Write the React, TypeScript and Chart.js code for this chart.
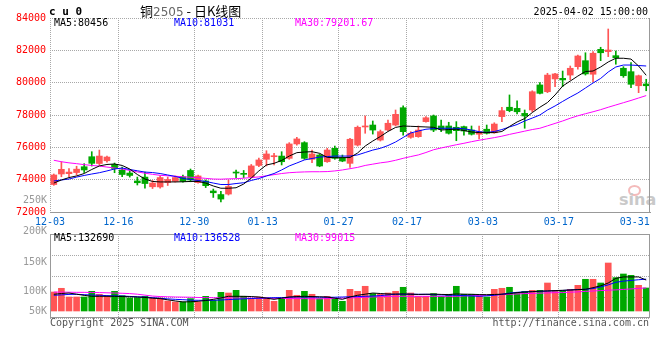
import React, { useEffect, useRef } from 'react';
import { Chart, registerables } from 'chart.js';

Chart.register(...registerables);

// ---------- data ----------
const dates = [
  '12-03', '12-04', '12-05', '12-06', '12-09', '12-10', '12-11', '12-12', '12-13', '12-16',
  '12-17', '12-18', '12-19', '12-20', '12-23', '12-24', '12-25', '12-26', '12-27', '12-30',
  '12-31', '01-02', '01-03', '01-06', '01-07', '01-08', '01-09', '01-10', '01-13', '01-14',
  '01-15', '01-16', '01-17', '01-20', '01-21', '01-22', '01-23', '01-24', '01-27', '02-05',
  '02-06', '02-07', '02-10', '02-11', '02-12', '02-13', '02-14', '02-17', '02-18', '02-19',
  '02-20', '02-21', '02-24', '02-25', '02-26', '02-27', '02-28', '03-03', '03-04', '03-05',
  '03-06', '03-07', '03-10', '03-11', '03-12', '03-13', '03-14', '03-17', '03-18', '03-19',
  '03-20', '03-21', '03-24', '03-25', '03-26', '03-27', '03-28', '03-31', '04-01',
];
const tickLabels = ['12-03', '12-16', '12-30', '01-13', '01-27', '02-17', '03-03', '03-17', '03-31'];
const gridLabels = ['12-16', '12-30', '01-13', '01-27', '02-17', '03-03', '03-17'];

const opens = [
  73700, 74350, 74370, 74440, 74800, 75420, 75000, 75170, 74940, 74600,
  74410, 73920, 74160, 73560, 73550, 73820, 73900, 74180, 74570, 73820,
  73920, 73300, 73080, 73110, 74440, 74390, 74180, 74880, 75260, 75420,
  75460, 75320, 76210, 76290, 75260, 75525, 75110, 75940, 75360, 75010,
  76140, 77260, 77380, 76450, 77070, 77380, 78450, 76620, 76660, 77590,
  77940, 77320, 77320, 77240, 77280, 77070, 76810, 77120, 76900, 77900,
  78480, 78410, 78100, 78310, 79860, 79440, 80230, 80270, 80470, 80990,
  81360, 80520, 82060, 81920, 81670, 80890, 80680, 79810, 79920,
];
const highs = [
  74350, 75110, 74690, 74830, 74990, 75730, 75830, 75460, 75030, 74780,
  74570, 74160, 74470, 73950, 74230, 74160, 74230, 74290, 74660, 74290,
  73980, 73420, 73280, 73980, 74600, 74570, 74940, 75340, 75790, 75630,
  75730, 76290, 76620, 76350, 75830, 75590, 75940, 76080, 75525, 76560,
  77320, 77940, 77630, 77070, 77690, 78310, 78560, 76970, 77320, 77900,
  78000, 77690, 77550, 77590, 77320, 77320, 77320, 77380, 77520, 78480,
  79240, 78870, 78310, 79500, 80000, 80580, 80580, 80720, 81030, 81710,
  81850, 81920, 82190, 83320, 81960, 80990, 81240, 80470, 80210,
];
const lows = [
  73650, 74180, 74190, 74290, 74440, 74840, 74900, 75090, 74430, 74180,
  74160, 73670, 73480, 73450, 73480, 73640, 73850, 73850, 73870, 73790,
  73510, 72900, 72620, 73050, 74130, 74130, 74150, 74810, 74850, 74910,
  74910, 75260, 76140, 75260, 75050, 74800, 75070, 75260, 75110, 74760,
  76080, 76870, 76820, 76390, 77010, 77320, 76760, 76560, 76620, 77550,
  76970, 76970, 76820, 76410, 76760, 76760, 76520, 76820, 76870, 77590,
  78200, 78060, 77180, 78200, 79300, 79380, 79750, 79750, 80170, 80830,
  80470, 80060, 81360, 81610, 81140, 80330, 79690, 79380, 79500,
];
const closes = [
  74290, 74640, 74470, 74650, 74600, 75010, 75460, 75400, 74690, 74320,
  74260, 73810, 73760, 73790, 74130, 74010, 74130, 73900, 73980, 74230,
  73630, 73190, 72800, 73580, 74410, 74330, 74850, 75220, 75590, 75480,
  75110, 76210, 76520, 75320, 75590, 74845, 75835, 75320, 75150, 76500,
  77240, 77320, 77070, 76970, 77490, 78040, 76970, 76870, 77070, 77830,
  77070, 77120, 76870, 77030, 77010, 76810, 76970, 76870, 77440, 78270,
  78270, 78200, 77940, 79440, 79340, 80470, 80540, 80170, 80890, 81650,
  80540, 81820, 81850, 82020, 81540, 80430, 79900, 80430, 79810,
];
const ma5 = [
  73790, 73980, 74130, 74230, 74380, 74630, 74850, 74940, 74970, 74880,
  74660, 74320, 74040, 73890, 73860, 73860, 73860, 73870, 73890, 73890,
  73790, 73610, 73470, 73470, 73500, 73730, 74100, 74540, 74910, 75010,
  75190, 75460, 75670, 75710, 75730, 75630, 75380, 75360, 75360, 75370,
  75650, 76080, 76390, 76670, 76980, 77230, 77320, 77300, 77280, 77260,
  77240, 77070, 77100, 77120, 77040, 76950, 76910, 76910, 76910, 76980,
  77290, 77570, 77780, 78150, 78480, 78770, 79240, 79790, 80100, 80410,
  80690, 80720, 80970, 81280, 81510, 81510, 81460, 81030, 80456,
];
const ma10 = [
  73920, 73980, 74040, 74160, 74260, 74350, 74430, 74540, 74660, 74720,
  74630, 74550, 74470, 74440, 74380, 74290, 74200, 74080, 74010, 73950,
  73890, 73790, 73700, 73700, 73760, 73810, 73950, 74070, 74230, 74380,
  74600, 74850, 75030, 75220, 75310, 75400, 75430, 75460, 75460, 75460,
  75530, 75680, 75830, 75940, 76110, 76330, 76610, 76890, 77010, 77120,
  77160, 77180, 77180, 77180, 77150, 77070, 76970, 76920, 76980, 77100,
  77260, 77410, 77630, 77810, 78000, 78310, 78560, 78840, 79110, 79360,
  79670, 79980, 80260, 80660, 80970, 81090, 81090, 81060, 81031,
];
const ma30 = [
  75200, 75110, 75040, 74990, 74930, 74880, 74840, 74780, 74720, 74660,
  74570, 74480, 74400, 74330, 74270, 74240, 74210, 74180, 74150, 74120,
  74080, 74040, 74030, 74050, 74060, 74090, 74130, 74170, 74240, 74310,
  74380, 74430, 74460, 74480, 74490, 74490, 74500, 74540, 74600, 74680,
  74760, 74880, 74960, 75040, 75100, 75200, 75320, 75430, 75530, 75680,
  75850, 75960, 76060, 76160, 76250, 76350, 76440, 76520, 76600, 76690,
  76800, 76900, 77000, 77100, 77180, 77330, 77480, 77630, 77800, 77950,
  78080, 78200, 78330, 78480, 78620, 78760, 78900, 79050, 79201.67,
];
const volumes = [
  81400, 97300, 60000, 60000, 60000, 84400, 71600, 63000, 84400, 66000,
  55700, 57400, 63000, 55700, 55700, 42900, 38600, 38600, 53100, 38600,
  63000, 45900, 80100, 77100, 88700, 63000, 53100, 60000, 57400, 41600,
  51400, 88700, 67300, 84400, 71600, 53100, 63000, 51400, 41600, 93000,
  84400, 105900, 74600, 71600, 77100, 84400, 101600, 77100, 63000, 63000,
  74600, 63000, 71600, 105900, 71600, 71600, 63000, 60000, 93000, 97300,
  101600, 77100, 84400, 88700, 88700, 120000, 87400, 87400, 93000, 110100,
  135900, 135900, 120000, 205700, 143100, 158600, 153000, 110100, 98600,
];
const volMa5 = [
  71600, 75000, 77000, 72000, 67000, 63000, 63000, 63000, 63000, 62000,
  61000, 60000, 58000, 55000, 53000, 48000, 43000, 39000, 39500, 41600,
  45000, 50000, 56000, 63000, 63000, 63000, 62000, 60000, 55000, 50000,
  55000, 60000, 62000, 63000, 62000, 61000, 60000, 55000, 50000, 60000,
  67300, 72000, 77000, 75000, 73000, 72500, 73000, 72000, 71000, 71600,
  72500, 71000, 70500, 73000, 72000, 71600, 70500, 70000, 70800, 72000,
  74000, 78900, 81000, 83000, 85000, 86000, 87500, 88700, 90000, 91500,
  93000, 100000, 108000, 120000, 140000, 146000, 146000, 146000, 132690,
];
const volMa10 = [
  67300, 69000, 71000, 71600, 70000, 68500, 67300, 66000, 65000, 64000,
  62500, 61000, 59500, 57000, 54500, 52000, 50000, 48500, 46500, 45900,
  45900, 45900, 47000, 49000, 50500, 52000, 53500, 55000, 56000, 57000,
  57400, 59000, 60000, 60000, 59500, 59000, 58700, 59000, 60000, 61000,
  62000, 63000, 64000, 66000, 69000, 71600, 72000, 72000, 71600, 71600,
  70000, 69000, 68000, 67300, 66000, 64500, 63000, 65000, 67300, 72000,
  77000, 80000, 82000, 83000, 84000, 85500, 86500, 88000, 90000, 92000,
  93000, 96000, 103000, 112000, 123000, 128000, 131000, 134000, 136528,
];
const volMa30 = [
  81000, 81000, 80500, 80000, 80000, 79500, 79000, 78000, 77000, 76000,
  74600, 72000, 68000, 64000, 62000, 61000, 60000, 59500, 59000, 58000,
  57500, 57000, 56500, 56000, 55500, 55000, 55000, 54500, 54400, 54000,
  53500, 53500, 53000, 53000, 52500, 52000, 53000, 54000, 55000, 56000,
  57400, 59000, 60500, 61500, 62500, 63000, 63000, 63000, 63000, 63000,
  63000, 63000, 63000, 63000, 64500, 65500, 66500, 67500, 68600, 70000,
  71500, 73000, 74600, 75500, 76500, 77500, 78500, 79000, 80500, 82000,
  84000, 85700, 87500, 89000, 90500, 92500, 94500, 97000, 99015,
];
const priceMin = 72000;
const priceMax = 84000;
const priceStep = 2000;
const volMin = -30000;
const volMax = 330000;
const volGridValues = [-30000, 60000, 150000, 240000, 330000];
const volAxisLabels = [
  { text: '200K', top: 224.5 },
  { text: '150K', top: 255.5 },
  { text: '100K', top: 284.8 },
  { text: '50K', top: 304.8 },
];

// ---------- styles ----------
const MONO = "'DejaVu Sans Mono', 'Liberation Mono', monospace";
const UP = '#ff5555';
const DOWN = '#00a800';
const GRID = '#a8a8a8';
const FRAME = '#999999';
const CLEAR = 'rgba(0,0,0,0)';

const candleColors = closes.map((c, i) => (c >= opens[i] ? UP : DOWN));
const gridIdx = new Set(gridLabels.map((l) => dates.indexOf(l)));
const last = (a: number[]) => a[a.length - 1];

const rightBorder = {
  id: 'rightBorder',
  afterDatasetsDraw(chart: any) {
    const { ctx, chartArea } = chart;
    ctx.save();
    ctx.strokeStyle = FRAME;
    ctx.lineWidth = 1;
    ctx.beginPath();
    const x = Math.round(chartArea.right) - 0.5;
    ctx.moveTo(x, chartArea.top);
    ctx.lineTo(x, chartArea.bottom);
    ctx.stroke();
    ctx.restore();
  },
};

const volFrame = {
  id: 'volFrame',
  afterDatasetsDraw(chart: any) {
    const { ctx, chartArea } = chart;
    ctx.save();
    ctx.strokeStyle = FRAME;
    ctx.lineWidth = 1;
    const l = Math.round(chartArea.left) + 0.5;
    const t = Math.round(chartArea.top) + 0.5;
    const r = Math.round(chartArea.right) - 0.5;
    const b = Math.round(chartArea.bottom) - 0.5;
    ctx.strokeRect(l, t, r - l, b - t);
    ctx.restore();
  },
};

function lineDs(data: number[], color: string) {
  return {
    type: 'line' as const,
    data,
    borderColor: color,
    borderWidth: 1,
    pointRadius: 0,
    tension: 0,
    fill: false,
    order: 0,
  };
}

function Txt(props: {
  x: number;
  y: number;
  text: React.ReactNode;
  color?: string;
  right?: boolean;
  size?: number;
  family?: string;
  weight?: string;
  lh?: number;
}) {
  const { x, y, text, color = '#000', right = false, size = 10, family = MONO, weight = 'normal', lh = 12 } = props;
  return (
    <div
      style={{
        position: 'absolute',
        left: right ? undefined : x,
        right: right ? 660 - x : undefined,
        top: y,
        fontFamily: family,
        fontSize: size,
        fontWeight: weight as any,
        lineHeight: lh + 'px',
        color,
        whiteSpace: 'pre',
      }}
    >
      {text}
    </div>
  );
}

export default function App() {
  const mainRef = useRef<HTMLCanvasElement>(null);
  const volRef = useRef<HTMLCanvasElement>(null);

  useEffect(() => {
    const main = new Chart(mainRef.current as HTMLCanvasElement, {
      type: 'bar',
      data: {
        labels: dates,
        datasets: [
          lineDs(ma5, '#000000'),
          lineDs(ma10, '#0000ff'),
          lineDs(ma30, '#ff00ff'),
          {
            type: 'bar',
            data: opens.map((o, i) => [Math.min(o, closes[i]), Math.max(o, closes[i])]),
            backgroundColor: candleColors,
            borderWidth: 0,
            barThickness: 6,
            minBarLength: 1,
            grouped: false,
            order: 1,
          } as any,
          {
            type: 'bar',
            data: lows.map((l, i) => [l, highs[i]]),
            backgroundColor: candleColors,
            borderWidth: 0,
            barThickness: 1,
            grouped: false,
            order: 2,
          } as any,
        ],
      },
      options: {
        responsive: false,
        animation: false,
        devicePixelRatio: 1,
        events: [],
        layout: { padding: { top: 18, right: 10, left: 0, bottom: 0 } },
        plugins: { legend: { display: false }, tooltip: { enabled: false }, title: { display: false } },
        scales: {
          x: {
            offset: true,
            afterFit: (s: any) => {
              s.height = 20;
            },
            ticks: {
              autoSkip: false,
              maxRotation: 0,
              minRotation: 0,
              labelOffset: -3.8,
              padding: 4,
              color: '#0066cc',
              font: { family: MONO, size: 10 },
              callback: (_v: any, i: number) => (tickLabels.includes(dates[i]) ? dates[i] : ''),
            },
            grid: {
              offset: true,
              drawTicks: false,
              color: (ctx: any) => (ctx.index === 0 || gridIdx.has(ctx.index) ? GRID : CLEAR),
            },
            border: { display: true, color: FRAME, width: 1, dash: [1, 1] },
          },
          y: {
            min: priceMin,
            max: priceMax,
            afterFit: (s: any) => {
              s.width = 50;
            },
            ticks: {
              stepSize: priceStep,
              color: '#ff0000',
              padding: 4,
              font: { family: MONO, size: 10 },
              callback: (v: any) => String(v),
            },
            grid: { color: GRID, drawTicks: false },
            border: { display: false, dash: [1, 1] },
          },
        },
      } as any,
      plugins: [rightBorder],
    });

    const vol = new Chart(volRef.current as HTMLCanvasElement, {
      type: 'bar',
      data: {
        labels: dates,
        datasets: [
          lineDs(volMa5, '#000000'),
          lineDs(volMa10, '#0000ff'),
          lineDs(volMa30, '#ff00ff'),
          {
            type: 'bar',
            data: volumes,
            backgroundColor: candleColors,
            borderWidth: 0,
            barThickness: 6,
            grouped: false,
            order: 1,
          } as any,
        ],
      },
      options: {
        responsive: false,
        animation: false,
        devicePixelRatio: 1,
        events: [],
        layout: { padding: { top: 2, right: 10, left: 0, bottom: 42 } },
        plugins: { legend: { display: false }, tooltip: { enabled: false } },
        scales: {
          x: {
            offset: true,
            afterFit: (s: any) => {
              s.height = 0;
            },
            ticks: { display: false, autoSkip: false, maxRotation: 0 },
            grid: {
              offset: true,
              drawTicks: false,
              color: (ctx: any) => (gridIdx.has(ctx.index) ? GRID : CLEAR),
            },
            border: { display: false, dash: [1, 1] },
          },
          y: {
            min: volMin,
            max: volMax,
            afterFit: (s: any) => {
              s.width = 50;
            },
            afterBuildTicks: (s: any) => {
              s.ticks = volGridValues.map((v) => ({ value: v }));
            },
            ticks: { display: false },
            grid: { color: GRID, drawTicks: false },
            border: { display: false, dash: [1, 1] },
          },
        },
      } as any,
      plugins: [volFrame],
    });

    return () => {
      main.destroy();
      vol.destroy();
    };
  }, []);

  return (
    <div style={{ position: 'absolute', left: 0, top: 0, width: 660, height: 360, background: '#fff', overflow: 'hidden' }}>
      {/* watermark */}
      <div
        style={{
          position: 'absolute',
          left: 628,
          top: 185,
          width: 9,
          height: 7,
          border: '2px solid rgba(235,130,130,0.55)',
          borderRadius: '50%',
        }}
      />
      <Txt x={619} y={192} text="sina" color="#c9c9c9" size={16} family="'DejaVu Sans', sans-serif" weight="bold" lh={16} />

      <canvas ref={mainRef} width={660} height={232} style={{ position: 'absolute', left: 0, top: 0, width: 660, height: 232 }} />
      <canvas ref={volRef} width={660} height={128} style={{ position: 'absolute', left: 0, top: 232, width: 660, height: 128 }} />

      {/* header */}
      <Txt x={49} y={5} text="c u 0" size={11} weight="bold" lh={13} />
      <Txt
        x={140}
        y={4}
        size={13}
        lh={13}
        family="'Noto Sans CJK SC', sans-serif"
        text={
          <>
            铜<span style={{ color: '#666', fontFamily: "'DejaVu Sans', sans-serif", fontSize: 12 }}>2505</span> - 日K线图
          </>
        }
      />
      <Txt x={648} y={6} right text="2025-04-02 15:00:00" />

      {/* main legend */}
      <Txt x={54} y={17} text={`MA5:${last(ma5)}`} color="#000" />
      <Txt x={174} y={17} text={`MA10:${last(ma10)}`} color="#0000ff" />
      <Txt x={295} y={17} text={`MA30:${last(ma30)}`} color="#ff00ff" />

      {/* volume legend */}
      <Txt x={54} y={232} text={`MA5:${last(volMa5)}`} color="#000" />
      <Txt x={174} y={232} text={`MA10:${last(volMa10)}`} color="#0000ff" />
      <Txt x={295} y={232} text={`MA30:${last(volMa30)}`} color="#ff00ff" />

      {/* volume axis labels */}
      <Txt x={47} y={193.8} right text="250K" color="#999" />
      {volAxisLabels.map((l) => (
        <Txt key={l.text} x={47} y={l.top} right text={l.text} color="#999" />
      ))}

      {/* footer */}
      <Txt x={50} y={316.5} text="Copyright 2025 SINA.COM" color="#555" />
      <Txt x={649} y={316.5} right text="http://finance.sina.com.cn" color="#555" />
    </div>
  );
}
